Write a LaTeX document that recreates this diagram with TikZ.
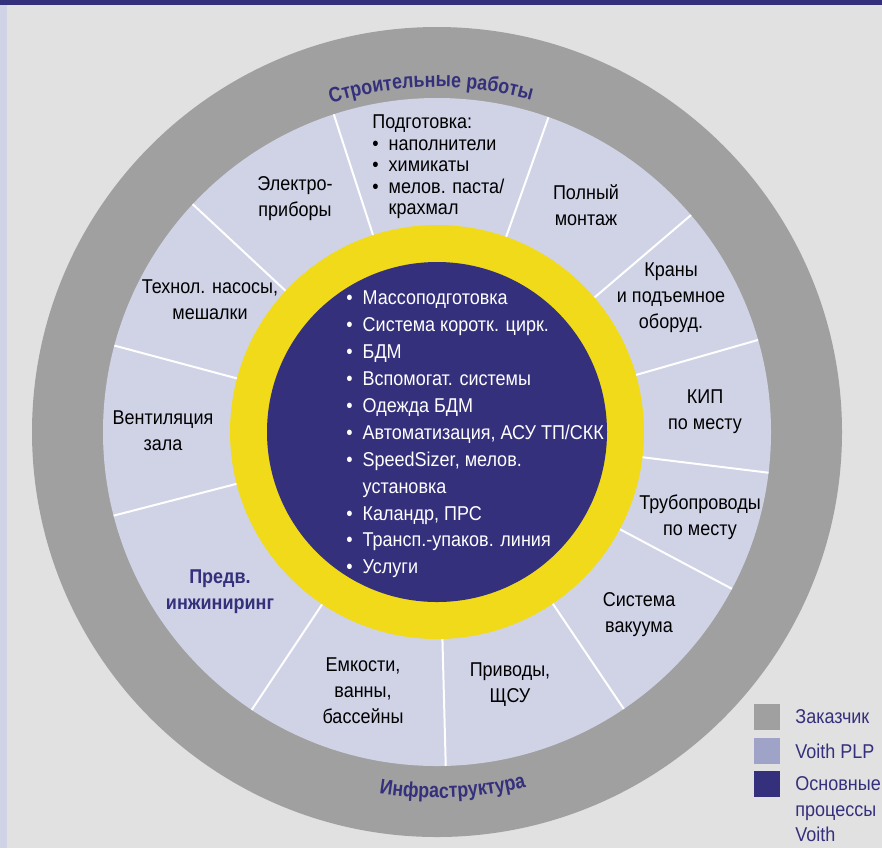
\documentclass[tikz,border=0pt]{standalone}
\usepackage{fontspec}
\setmainfont[FakeStretch=0.9]{Liberation Sans}
\newfontfamily\ringfont[FakeStretch=0.85]{Liberation Sans}
\usetikzlibrary{decorations.text}
\definecolor{voithnavy}{HTML}{35307C}
\definecolor{pagegray}{HTML}{E1E1E1}
\definecolor{clientgray}{HTML}{A0A0A0}
\definecolor{plplilac}{HTML}{D0D3E6}
\definecolor{plpkey}{HTML}{A0A3C8}
\definecolor{coreyellow}{HTML}{F0DA1A}
\newcommand\bul{\textbullet\hspace{0.5em}}

\begin{document}
\begin{tikzpicture}[x=0.5pt,y=0.5pt,
  every node/.style={inner sep=0pt, font=\fontsize{10}{13}\selectfont},
  seg/.style={align=center},
  sep/.style={white, line width=1pt},
  keybox/.style={minimum size=13pt, anchor=north west},
  keytext/.style={anchor=west, align=left, text=voithnavy, font=\fontsize{10}{12.75}\selectfont}]
\useasboundingbox (0,0) rectangle (882,-848);
\fill [pagegray] (0,0) rectangle (882,-848);
\fill [plplilac] (0,0) rectangle (7,-848);
\fill [voithnavy] (0,0) rectangle (882,-5);
\coordinate (c) at (437,-432);
\fill [clientgray] (c) circle (405);
\fill [plplilac] (c) circle (334);
\foreach \a in {108,70.5,40.5,16,-7,-28,-56,-88.5,-123.7,-165.5,165,137}
  \draw [sep] ([shift={(\a:200)}]c) -- ([shift={(\a:334)}]c);
\fill [coreyellow] (c) circle (207);
\fill [voithnavy] (c) circle (170);
\path [decorate, decoration={text along path, text align=center,
  text={|\ringfont\fontsize{10.5}{12}\selectfont\bfseries\color{voithnavy}|Строительные работы}}]
  ([shift={(126:345)}]c) arc [start angle=126, end angle=56, radius=345];
\path [decorate, decoration={text along path, text align=center,
  text={|\ringfont\fontsize{10.5}{12}\selectfont\bfseries\color{voithnavy}|Инфраструктура}}]
  ([shift={(237.5:366)}]c) arc [start angle=237.5, end angle=307.5, radius=366];
\node [anchor=west, align=left, text=white, font=\fontsize{10}{13.45}\selectfont] (core) at (346,-434.5)
  {\bul Массоподготовка\\
   \bul Система коротк. цирк.\\
   \bul БДМ\\
   \bul Вспомогат. системы\\
   \bul Одежда БДМ\\
   \bul Автоматизация, АСУ ТП/СКК\\
   \bul SpeedSizer, мелов.\\
   \phantom{\bul}установка\\
   \bul Каландр, ПРС\\
   \bul Трансп.-упаков. линия\\
   \bul Услуги};
\node [anchor=west, align=left, font=\fontsize{10}{10.75}\selectfont] (prep) at (372,-167)
  {Подготовка:\\
   \bul наполнители\\
   \bul химикаты\\
   \bul мелов. паста/\\
   \phantom{\bul}крахмал};
\node [seg] (elec) at (295,-198.5) {Электро-\\приборы};
\node [seg] (mont) at (586,-205) {Полный\\монтаж};
\node [seg] (cran) at (671,-298) {Краны\\и подъемное\\оборуд.};
\node [seg] (kip) at (705,-412) {КИП\\по месту};
\node [seg] (pipe) at (700,-517) {Трубопроводы\\по месту};
\node [seg] (vac) at (639,-615) {Система\\вакуума};
\node [seg] (drive) at (510,-685) {Приводы,\\ЩСУ};
\node [seg] (tank) at (363,-691) {Емкости,\\ванны,\\бассейны};
\node [seg, text=voithnavy, font=\fontsize{10}{13}\selectfont\bfseries] (eng) at (220,-592) {Предв.\\инжиниринг};
\node [seg] (vent) at (163,-431) {Вентиляция\\зала};
\node [seg] (pump) at (210,-300) {Технол. насосы,\\мешалки};
\node [keybox, fill=clientgray] (key1) at (754,-704) {};
\node [keybox, fill=plpkey] (key2) at (754,-738) {};
\node [keybox, fill=voithnavy] (key3) at (754,-771) {};
\node [keytext] (lab1) at (795,-717) {Заказчик};
\node [keytext] (lab2) at (795,-751) {Voith PLP};
\node [keytext] (lab3) at (795,-809.5) {Основные\\процессы\\Voith};
\end{tikzpicture}
\end{document}
